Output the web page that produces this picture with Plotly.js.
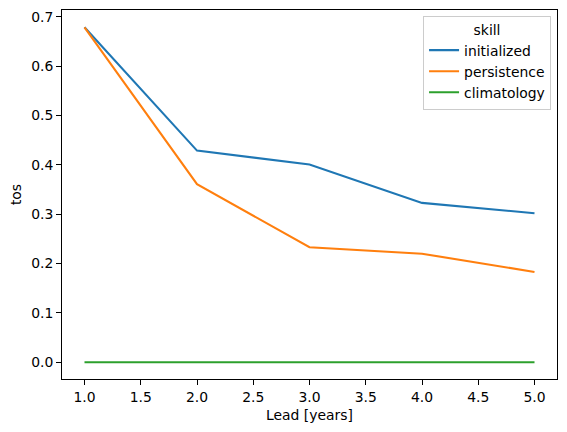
<!DOCTYPE html>
<html>
<head>
<meta charset="utf-8">
<script src="https://cdn.plot.ly/plotly-3.0.1.min.js"></script>
<style>html,body{margin:0;padding:0;background:#fff;}#chart{width:567px;height:432px;}</style>
</head>
<body>
<div id="chart"></div>
<script>
const lead = [1, 2, 3, 4, 5];
const initialized = [0.679, 0.429, 0.401, 0.323, 0.302];
const persistence = [0.679, 0.361, 0.233, 0.220, 0.183];
const climatology = [0, 0, 0, 0, 0];
const xTicks = [1.0, 1.5, 2.0, 2.5, 3.0, 3.5, 4.0, 4.5, 5.0];
const xTickText = ['1.0', '1.5', '2.0', '2.5', '3.0', '3.5', '4.0', '4.5', '5.0'];
const yTicks = [0, 0.1, 0.2, 0.3, 0.4, 0.5, 0.6, 0.7];
const yTickText = ['0.0', '0.1', '0.2', '0.3', '0.4', '0.5', '0.6', '0.7'];

const fs = 13.9;
const lw = 2.08;
const traces = [
  {x: lead, y: initialized, name: 'initialized', mode: 'lines', line: {color: '#1f77b4', width: lw}},
  {x: lead, y: persistence, name: 'persistence', mode: 'lines', line: {color: '#ff7f0e', width: lw}},
  {x: lead, y: climatology, name: 'climatology', mode: 'lines', line: {color: '#2ca02c', width: lw}}
];

const axisCommon = {
  showgrid: false, zeroline: false, showline: true, mirror: true,
  linecolor: '#000', linewidth: 1, ticks: 'outside', ticklen: 4.86, tickwidth: 1,
  tickcolor: '#000', tickfont: {size: fs, color: '#000'}
};

const layout = {
  width: 567, height: 432,
  margin: {l: 62, r: 9.5, t: 9.5, b: 53},
  paper_bgcolor: '#fff', plot_bgcolor: '#fff',
  font: {family: 'DejaVu Sans, sans-serif', size: fs, color: '#000'},
  showlegend: true,
  xaxis: Object.assign({}, axisCommon, {
    range: [0.8, 5.2], tickvals: xTicks, ticktext: xTickText,
    title: {text: 'Lead [years]', font: {size: fs}, standoff: 6}
  }),
  yaxis: Object.assign({}, axisCommon, {
    range: [-0.034, 0.714], tickvals: yTicks, ticktext: yTickText,
    title: {text: 'tos', font: {size: fs}, standoff: 6}
  }),
  legend: {
    x: 0.988, y: 0.985, xanchor: 'right', yanchor: 'top',
    bgcolor: 'rgba(255,255,255,0.8)', bordercolor: '#cccccc', borderwidth: 1,
    font: {size: fs},
    tracegroupgap: 0,
    title: {text: 'skill', side: 'top center', font: {size: fs}}
  }
};

Plotly.newPlot('chart', traces, layout, {displayModeBar: false, staticPlot: true});
</script>
</body>
</html>
